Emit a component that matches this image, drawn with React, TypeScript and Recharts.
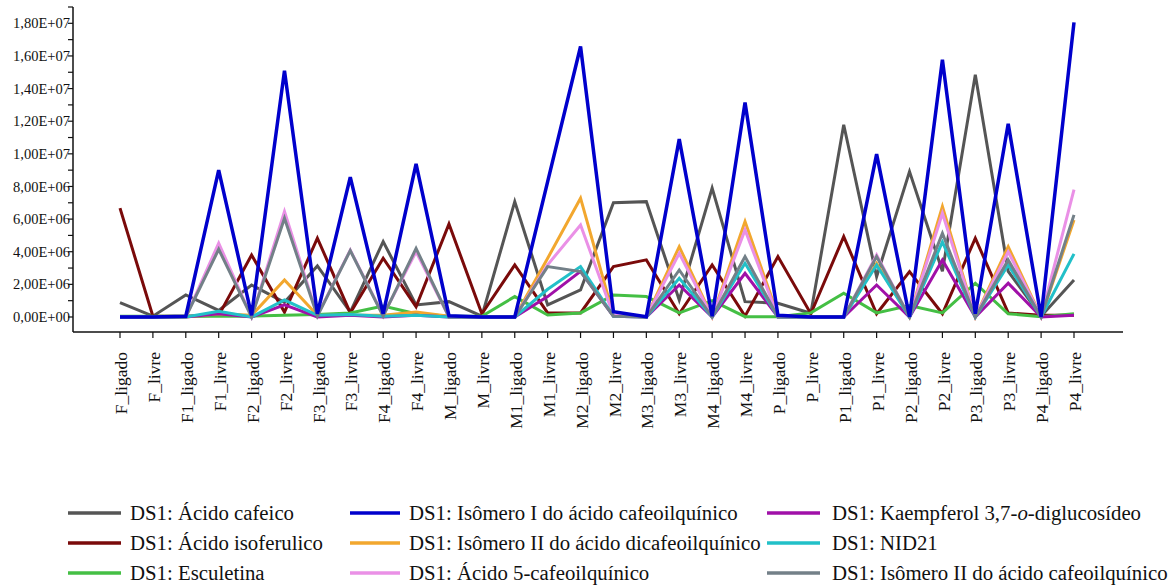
import React from 'react';
import { LineChart, Line, XAxis, YAxis } from 'recharts';

const categories = ['F_ligado','F_livre','F1_ligado','F1_livre','F2_ligado','F2_livre','F3_ligado','F3_livre','F4_ligado','F4_livre','M_ligado','M_livre','M1_ligado','M1_livre','M2_ligado','M2_livre','M3_ligado','M3_livre','M4_ligado','M4_livre','P_ligado','P_livre','P1_ligado','P1_livre','P2_ligado','P2_livre','P3_ligado','P3_livre','P4_ligado','P4_livre'];

// values in millions (x 1E+06)
const acidoCafeico = [0.88, 0.05, 1.35, 0.4, 1.96, 0.9, 3.13, 0.3, 4.62, 0.74, 0.94, 0.05, 7.07, 0.74, 1.66, 7.0, 7.07, 1.04, 7.9, 0.94, 0.84, 0.23, 11.78, 2.47, 8.91, 2.8, 14.85, 2.8, 0.05, 2.27];
const acidoIsoferulico = [6.67, 0.05, 0.05, 0.1, 3.8, 0.3, 4.83, 0.25, 3.6, 0.63, 5.7, 0.2, 3.19, 0.25, 0.25, 3.09, 3.5, 0.2, 3.19, 0.05, 3.7, 0.2, 4.93, 0.2, 2.78, 0.2, 4.83, 0.25, 0.1, 0.1];
const esculetina = [0.05, 0.05, 0.05, 0.05, 0.05, 0.1, 0.15, 0.25, 0.67, 0.2, 0.05, 0.05, 1.25, 0.12, 0.25, 1.35, 1.25, 0.25, 1.0, 0.02, 0.02, 0.25, 1.45, 0.25, 0.7, 0.25, 2.07, 0.2, 0.02, 0.2];
const isomeroICafeoil = [0, 0, 0.05, 9.0, 0.1, 15.1, 0.2, 8.57, 0.2, 9.39, 0.08, 0, 0, 8.3, 16.58, 0.33, 0.02, 10.9, 0.05, 13.15, 0.1, 0, 0, 9.98, 0, 15.77, 0.2, 11.84, 0, 18.06];
const isomeroIIDicafeoil = [0, 0, 0, 0.2, 0.1, 2.27, 0.1, 0.1, 0.1, 0.3, 0.05, 0, 0, 3.6, 7.28, 0.1, 0, 4.31, 0, 5.85, 0.1, 0, 0, 3.29, 0, 6.77, 0, 4.31, 0, 5.95];
const acido5Cafeoil = [0, 0, 0, 4.52, 0, 6.46, 0.1, 4.1, 0.1, 4.0, 0, 0, 0, 3.2, 5.64, 0.1, 0, 3.9, 0, 5.34, 0, 0, 0, 3.8, 0, 6.36, 0, 4.0, 0, 7.8];
const kaempferol = [0, 0, 0, 0.2, 0, 0.74, 0, 0.1, 0, 0.1, 0, 0, 0, 1.25, 2.8, 0.05, 0, 1.96, 0, 2.68, 0, 0, 0, 1.96, 0, 3.5, 0, 2.07, 0, 0.1];
const nid21 = [0, 0, 0, 0.35, 0, 1.04, 0.1, 0.15, 0.05, 0.1, 0, 0, 0, 1.7, 3.09, 0.05, 0, 2.37, 0, 3.29, 0, 0, 0, 3.19, 0, 4.6, 0, 3.19, 0, 3.87];
const isomeroIICafeoil = [0, 0, 0, 4.15, 0, 6.05, 0.05, 4.07, 0.05, 4.2, 0, 0, 0, 3.09, 2.78, 0.05, 0, 2.88, 0, 3.7, 0, 0, 0, 3.7, 0, 5.13, 0, 3.5, 0, 6.26];

const UNIT = 1e6;
const yTicks = [0, 1, 2, 3, 4, 5, 6, 7, 8, 9, 10, 11, 12, 13, 14, 15, 16, 17, 18, 19].map((m) => m * UNIT);

const series = [
  { key: 'cafeico', name: 'DS1: Ácido cafeico', values: acidoCafeico, color: '#555555', w: 3 },
  { key: 'isoferulico', name: 'DS1: Ácido isoferulico', values: acidoIsoferulico, color: '#7a0a0a', w: 3 },
  { key: 'esculetina', name: 'DS1: Esculetina', values: esculetina, color: '#44bf44', w: 3 },
  { key: 'isoIIdi', name: 'DS1: Isômero II do ácido dicafeoilquínico', values: isomeroIIDicafeoil, color: '#f2a72e', w: 3 },
  { key: 'a5', name: 'DS1: Ácido 5-cafeoilquínico', values: acido5Cafeoil, color: '#ea90e6', w: 3 },
  { key: 'kaemp', name: 'DS1: Kaempferol 3,7-o-diglucosídeo', values: kaempferol, color: '#a010a8', w: 3 },
  { key: 'nid21', name: 'DS1: NID21', values: nid21, color: '#22c0c8', w: 3 },
  { key: 'isoIIc', name: 'DS1: Isômero II do ácido cafeoilquínico', values: isomeroIICafeoil, color: '#738088', w: 3 },
  { key: 'isoI', name: 'DS1: Isômero I do ácido cafeoilquínico', values: isomeroICafeoil, color: '#0000cc', w: 3.5 },
];

const data = categories.map((cat, i) => {
  const row: Record<string, any> = { cat };
  series.forEach((s) => { row[s.key] = s.values[i] * UNIT; });
  return row;
});

const legendCols = [
  ['cafeico', 'isoferulico', 'esculetina'],
  ['isoI', 'isoIIdi', 'a5'],
  ['kaemp', 'nid21', 'isoIIc'],
];
const legendColX = [{ l: 68, r: 121, t: 130 }, { l: 350, r: 400, t: 409 }, { l: 767, r: 820, t: 832 }];
const legendRowY = [513, 543, 573];

const fmt = (v: number) => {
  if (v === 0) return '0,00E+00';
  const e = Math.floor(Math.log10(v) + 1e-9);
  const m = v / Math.pow(10, e);
  return `${m.toFixed(2).replace('.', ',')}E+${String(e).padStart(2, '0')}`;
};

const FONT = '"Liberation Serif", "Times New Roman", serif';

const YTick = (props: any) => {
  const { y, payload } = props;
  const v = payload.value;
  if (Math.round(v / UNIT) % 2 !== 0) return <g />;
  return (
    <text x={70} y={y} dy="0.35em" textAnchor="end" fontFamily={FONT} fontSize={14.5} fill="#111">
      {fmt(v)}
    </text>
  );
};

const XTick = (props: any) => {
  const { x, payload } = props;
  return (
    <g transform={`translate(${x + 1},${352})`}>
      <text transform="rotate(-90)" textAnchor="end" dy="0.35em" fontFamily={FONT} fontSize={17.5} fill="#111">
        {payload.value}
      </text>
    </g>
  );
};

const Legend = () => {
  const byKey: Record<string, any> = {};
  series.forEach((s) => { byKey[s.key] = s; });
  return (
    <svg width={1174} height={587} style={{ position: 'absolute', left: 0, top: 0, pointerEvents: 'none' }}>
      {legendCols.map((col, ci) =>
        col.map((k, ri) => {
          const s = byKey[k];
          const y = legendRowY[ri];
          const isKaemp = k === 'kaemp';
          return (
            <g key={k}>
              <line x1={legendColX[ci].l} x2={legendColX[ci].r} y1={y} y2={y} stroke={s.color} strokeWidth={3.5} />
              <text x={legendColX[ci].t} y={y} dy="0.35em" fontFamily={FONT} fontSize={20.8} fill="#111">
                {isKaemp ? (
                  <>
                    DS1: Kaempferol 3,7-<tspan fontStyle="italic">o</tspan>-diglucosídeo
                  </>
                ) : (
                  s.name
                )}
              </text>
            </g>
          );
        })
      )}
    </svg>
  );
};

export default function App() {
  return (
    <div style={{ position: 'absolute', left: 0, top: 0, width: 1174, height: 587, background: '#fff' }}>
      <LineChart width={1174} height={480} data={data} margin={{ top: 7, right: 51, left: 0, bottom: 0 }}>
        <XAxis
          dataKey="cat"
          interval={0}
          height={148}
          padding={{ left: 47, right: 49 }}
          tickSize={6}
          axisLine={{ stroke: '#111', strokeWidth: 1.5 }}
          tickLine={{ stroke: '#111', strokeWidth: 1.2 }}
          tick={<XTick />}
        />
        <YAxis
          width={73}
          domain={[-0.92 * UNIT, 19 * UNIT]}
          ticks={yTicks}
          allowDataOverflow
          interval={0}
          tickSize={5}
          axisLine={{ stroke: '#111', strokeWidth: 1.5 }}
          tickLine={{ stroke: '#111', strokeWidth: 1.2 }}
          tick={<YTick />}
        />
        {series.map((s) => (
          <Line
            key={s.key}
            dataKey={s.key}
            name={s.name}
            stroke={s.color}
            strokeWidth={s.w}
            dot={false}
            activeDot={false}
            type="linear"
            isAnimationActive={false}
          />
        ))}
      </LineChart>
      <Legend />
    </div>
  );
}
